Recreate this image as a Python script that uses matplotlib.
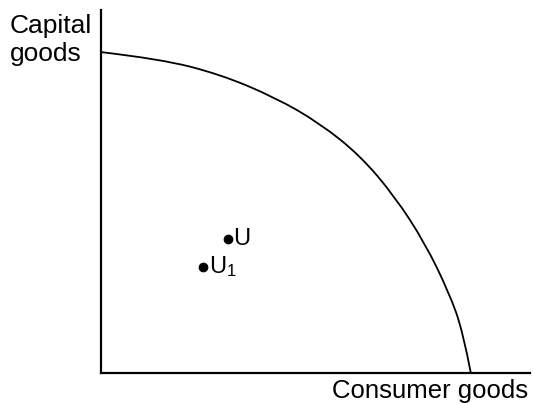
import matplotlib

matplotlib.use("Agg")
import matplotlib.pyplot as plt
from matplotlib.patches import PathPatch
from matplotlib.path import Path

plt.rcParams["font.family"] = ["Liberation Sans", "DejaVu Sans"]
plt.rcParams["mathtext.fontset"] = "custom"
plt.rcParams["mathtext.rm"] = "Liberation Sans"
plt.rcParams["mathtext.it"] = "Liberation Sans"

# production possibility frontier (axes run 0..100)
ppf_consumer = [0, 13.8, 27.7, 40.6, 51.0, 60.4, 68.5, 75.5, 81.1, 84.4, 86.2]
ppf_capital = [88.4, 86.5, 82.3, 75.9, 68.8, 59.9, 48.6, 35.8, 22.2, 11.3, 0]

point_names = ["U", r"$\mathrm{U}_1$"]
point_consumer = [29.6, 23.8]
point_capital = [36.9, 29.2]


def smooth_path(xs, ys):
    # quadratic B-spline: read points act as control points, smooths reading noise
    pts = list(zip(xs, ys))
    verts = [pts[0]]
    codes = [Path.MOVETO]
    for i in range(1, len(pts) - 1):
        if i < len(pts) - 2:
            end = ((pts[i][0] + pts[i + 1][0]) / 2, (pts[i][1] + pts[i + 1][1]) / 2)
        else:
            end = pts[-1]
        verts += [pts[i], end]
        codes += [Path.CURVE3, Path.CURVE3]
    return Path(verts, codes)


W, H = 533, 403
fig = plt.figure(figsize=(W / 100, H / 100), dpi=100)
ax = fig.add_axes([101 / W, 30 / H, 429 / W, 363 / H])
ax.set_xlim(0, 100)
ax.set_ylim(0, 100)

for side in ("top", "right"):
    ax.spines[side].set_visible(False)
for side in ("left", "bottom"):
    ax.spines[side].set_linewidth(1.6)
ax.set_xticks([])
ax.set_yticks([])

ax.add_patch(PathPatch(smooth_path(ppf_consumer, ppf_capital), fill=False,
                       edgecolor="black", lw=1.3, clip_on=False))

ax.plot(point_consumer, point_capital, "o", color="black", ms=6)
for name, x, y in zip(point_names, point_consumer, point_capital):
    ax.annotate(name, (x, y), xytext=(4, 0), textcoords="offset points",
                va="center", ha="left", fontsize=17)

fig.text(10 / W, 1 - 14 / H, "Capital\ngoods", ha="left", va="top",
         fontsize=19, linespacing=1.2)
fig.text(528 / W, 1 - 398 / H, "Consumer goods", ha="right", va="baseline",
         fontsize=18.5)

fig.savefig("out.png", dpi=100)
